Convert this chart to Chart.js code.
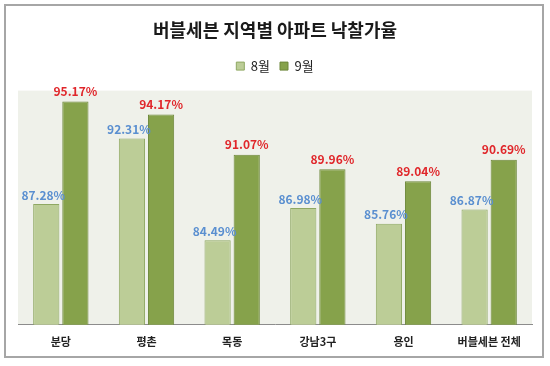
<!DOCTYPE html>
<html><head><meta charset="utf-8">
<script src="https://cdn.jsdelivr.net/npm/chart.js@4"></script>
<style>html,body{margin:0;padding:0;background:#fff}#wrap{width:550px;height:366px}</style>
</head><body><div id="wrap"><canvas id="c" width="550" height="366"></canvas></div>
<script>
const categories = ['분당','평촌','목동','강남3구','용인','버블세븐 전체'];
const aug = [87.28, 92.31, 84.49, 86.98, 85.76, 86.87];
const sep = [95.17, 94.17, 91.07, 89.96, 89.04, 90.69];
const seriesNames = ['8월','9월'];
const yMin = 78, yMax = 96;
const FONT = '"Noto Sans CJK KR", "Malgun Gothic", sans-serif';

const legendMargin = {
  id:'legendMargin',
  beforeInit(chart){
    const orig = chart.legend.fit;
    chart.legend.fit = function(){ orig.bind(chart.legend)(); this.height += 8; };
  }
};

const deco = {
  id:'deco',
  beforeDraw(chart){
    const {ctx, chartArea:a} = chart;
    ctx.save();
    ctx.fillStyle='#fff'; ctx.fillRect(0,0,chart.width,chart.height);
    ctx.strokeStyle='#A6A6A6'; ctx.lineWidth=2;
    ctx.strokeRect(5,5,538,352);
    ctx.fillStyle='#EFF1EA';
    ctx.fillRect(a.left,a.top,a.right-a.left,a.bottom-a.top);
    ctx.restore();
  },
  afterDatasetsDraw(chart){
    const {ctx} = chart;
    ctx.save();
    ctx.textAlign='center'; ctx.textBaseline='bottom';
    chart.data.datasets.forEach((ds,i)=>{
      const meta = chart.getDatasetMeta(i);
      ctx.font = 'bold 12px ' + FONT;
      ctx.fillStyle = i===0 ? '#5A8FD0' : '#E0262A';
      meta.data.forEach((bar,j)=>{
        const dx = i===0 ? -3 : 0;
        ctx.fillText(ds.data[j].toFixed(2)+'%', bar.x+dx, bar.y-(i===0?3:4));
      });
    });
    ctx.restore();
  }
};

new Chart(document.getElementById('c'),{
  type:'bar',
  data:{
    labels:categories,
    datasets:[
      {label:seriesNames[0], data:aug, backgroundColor:'#BCCD97', borderColor:'#8FA862', borderWidth:1, categoryPercentage:0.68, barPercentage:0.9},
      {label:seriesNames[1], data:sep, backgroundColor:'#86A24B', borderColor:'#6C873A', borderWidth:1, categoryPercentage:0.68, barPercentage:0.9}
    ]
  },
  options:{
    responsive:false, animation:false,
    layout:{padding:{left:18,right:18,top:0,bottom:8}},
    plugins:{
      title:{display:true,text:'버블세븐 지역별 아파트 낙찰가율',color:'#1a1a1a',font:{family:FONT,size:18,weight:'bold'},padding:{top:19,bottom:9}},
      legend:{display:true,position:'top',labels:{color:'#222',font:{family:FONT,size:13},boxWidth:8,boxHeight:8,padding:10}},
      tooltip:{enabled:false}
    },
    scales:{
      x:{grid:{display:false,drawTicks:false},border:{display:true,color:'#8C8C8C',width:1},
         ticks:{color:'#222',font:{family:FONT,size:11,weight:'bold'},padding:10}},
      y:{display:false,min:yMin,max:yMax}
    }
  },
  plugins:[legendMargin, deco]
});
</script></body></html>
